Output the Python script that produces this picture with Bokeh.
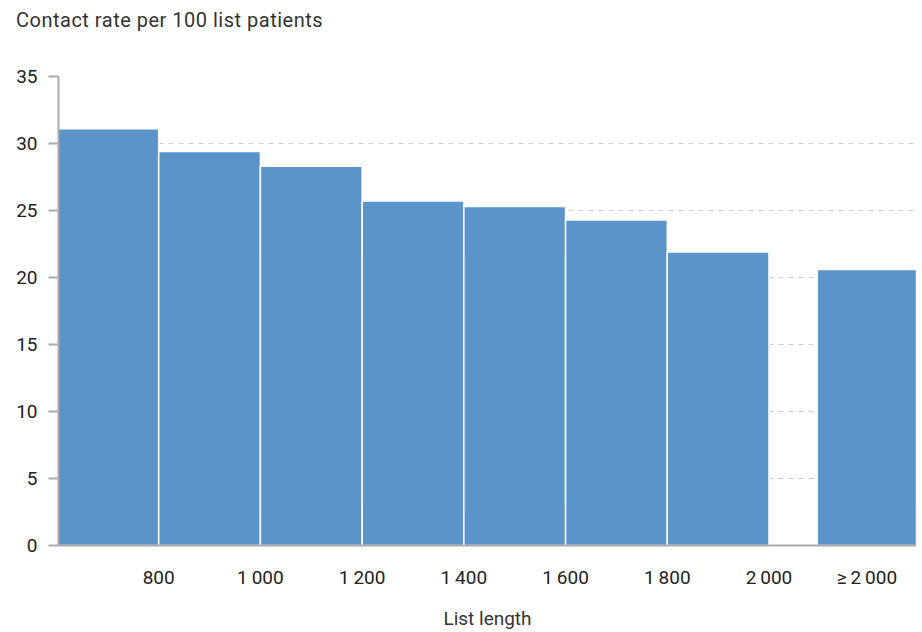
from bokeh.plotting import figure
from bokeh.models import Range1d, FixedTicker, ColumnDataSource, Div
from bokeh.layouts import column
from bokeh.embed import file_html
from bokeh.resources import INLINE

# Data
bin_left = [600, 800, 1000, 1200, 1400, 1600, 1800, 2095]
bin_right = [800, 1000, 1200, 1400, 1600, 1800, 2000, 2290]
rates = [31.1, 29.4, 28.3, 25.7, 25.3, 24.3, 21.9, 20.6]
tick_values = [800, 1000, 1200, 1400, 1600, 1800, 2000, 2192.5]
tick_labels = ["800", "1\u2009000", "1\u2009200", "1\u2009400", "1\u2009600", "1\u2009800", "2\u2009000", "\u2265\u20092\u2009000"]
y_ticks = [0, 5, 10, 15, 20, 25, 30, 35]
y_title = "Contact rate per 100 list patients"

FONT = "Roboto"
BAR = "#5a94c8"

header = Div(text=y_title, width=916, height=40, margin=(0, 0, 0, 0),
             styles={"font-family": FONT, "font-size": "20px", "color": "#333333",
                     "padding-left": "16px", "line-height": "40px", "letter-spacing": "0.5px",
                     "white-space": "nowrap"})

p = figure(width=916, height=592, output_backend="svg", toolbar_location=None,
           x_range=Range1d(603, 2290), y_range=Range1d(0, 35),
           min_border_left=58, min_border_right=0, min_border_top=36, min_border_bottom=87)
p.outline_line_color = None
p.background_fill_color = "white"
p.border_fill_color = "white"

src = ColumnDataSource(dict(left=bin_left, right=bin_right, top=rates, bottom=[0] * len(rates)))
p.quad(left="left", right="right", top="top", bottom="bottom", source=src,
       fill_color=BAR, line_color="white", line_width=1.5)

# y axis
p.yaxis.ticker = FixedTicker(ticks=y_ticks)
p.yaxis.axis_line_color = "#aaaaaa"
p.yaxis.axis_line_width = 2
p.yaxis.major_tick_line_color = "#aaaaaa"
p.yaxis.major_tick_line_width = 2
p.yaxis.major_tick_out = 10
p.yaxis.major_tick_in = 0
p.yaxis.minor_tick_line_color = None
p.yaxis.major_label_text_font = FONT
p.yaxis.major_label_text_font_size = "19px"
p.yaxis.major_label_text_color = "#222222"
p.yaxis.major_label_standoff = 11

# x axis
p.xaxis.ticker = FixedTicker(ticks=tick_values)
p.xaxis.major_label_overrides = {v: l for v, l in zip(tick_values, tick_labels)}
p.xaxis.axis_line_color = "#aaaaaa"
p.xaxis.axis_line_width = 2
p.xaxis.major_tick_line_color = None
p.xaxis.minor_tick_line_color = None
p.xaxis.major_label_text_font = FONT
p.xaxis.major_label_text_font_size = "19px"
p.xaxis.major_label_text_color = "#222222"
p.xaxis.major_label_standoff = 14
p.xaxis.axis_label = "List length"
p.xaxis.axis_label_text_font = FONT
p.xaxis.axis_label_text_font_size = "19px"
p.xaxis.axis_label_text_font_style = "normal"
p.xaxis.axis_label_text_color = "#333333"
p.xaxis.axis_label_standoff = 15

p.xgrid.grid_line_color = None
p.ygrid.ticker = FixedTicker(ticks=y_ticks[1:])
p.ygrid.grid_line_color = "#cccccc"
p.ygrid.grid_line_dash = "5 5"
p.ygrid.grid_line_width = 1

layout = column(header, p, spacing=0)
open("out.html", "w").write(file_html(layout, INLINE))
